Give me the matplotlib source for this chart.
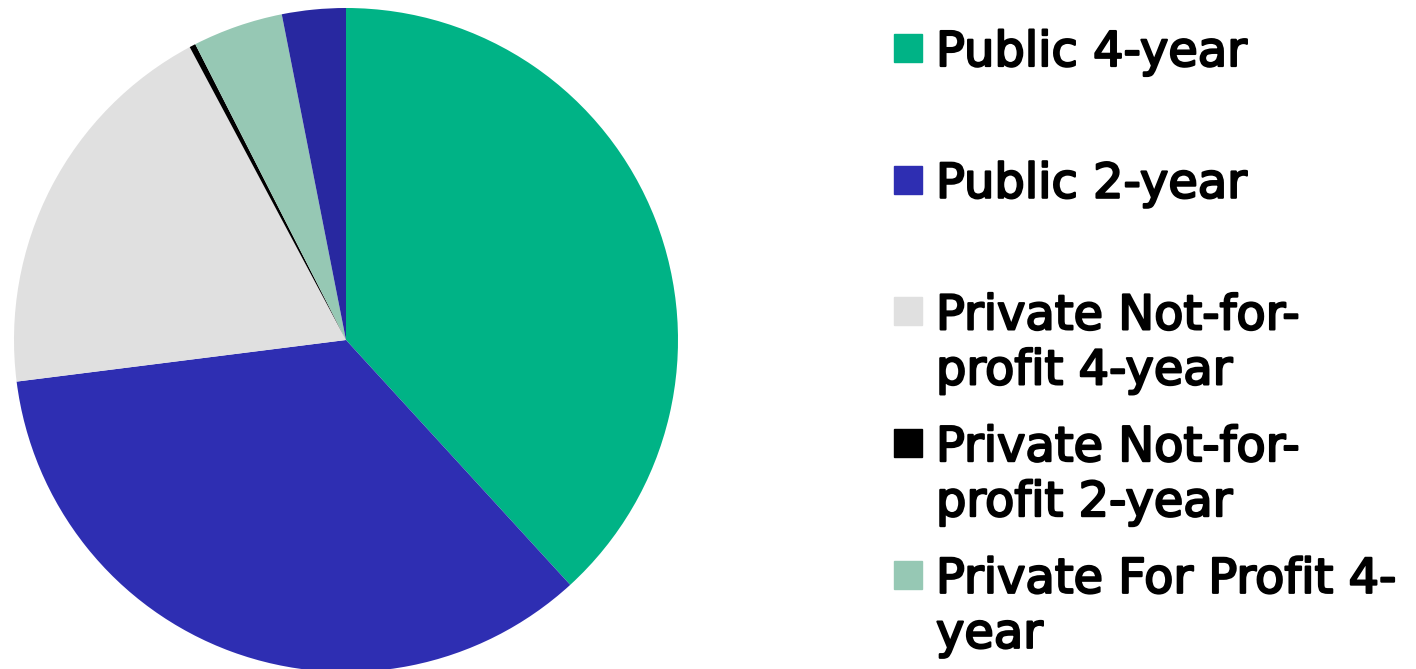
import matplotlib.pyplot as plt
import matplotlib.patheffects as pe
from matplotlib.patches import Rectangle

# share of institutions by sector (percent)
sectors = ['Public 4-year', 'Public 2-year', 'Private Not-for-\nprofit 4-year',
           'Private Not-for-\nprofit 2-year', 'Private For Profit 4-\nyear',
           'Private For Profit 2-\nyear']
shares = [38.2, 34.8, 19.2, 0.3, 4.4, 3.1]
colors = ['#00B386', '#2E2EB2', '#E0E0E0', '#000000', '#96C8B4', '#2828A0']

W, H = 1416, 669
fig = plt.figure(figsize=(W / 100, H / 100), dpi=100)
ax = fig.add_axes([0, 0, 1, 1])

# work in pixel units so the pie sits where we want it
ax.pie(shares, colors=colors, startangle=90, counterclock=False,
       center=(346, H - 340), radius=332,
       wedgeprops=dict(linewidth=0))
ax.set_xlim(0, W)
ax.set_ylim(0, H)
ax.set_aspect('equal')
ax.axis('off')

# hand-made legend, one slot per sector (last one runs off the bottom)
slot = 131.7
base = 66
line_h = 55
thick = [pe.withStroke(linewidth=1.6, foreground='black')]
for i, (lab, c) in enumerate(zip(sectors, colors)):
    y = H - (base + i * slot)
    ax.add_patch(Rectangle((894, y + 4), 28, 28, color=c, clip_on=False))
    for j, line in enumerate(lab.split('\n')):
        ax.text(936, y - j * line_h, line, fontsize=34.5, va='baseline',
                ha='left', family='DejaVu Sans', path_effects=thick)

fig.savefig('out.png', dpi=100)
